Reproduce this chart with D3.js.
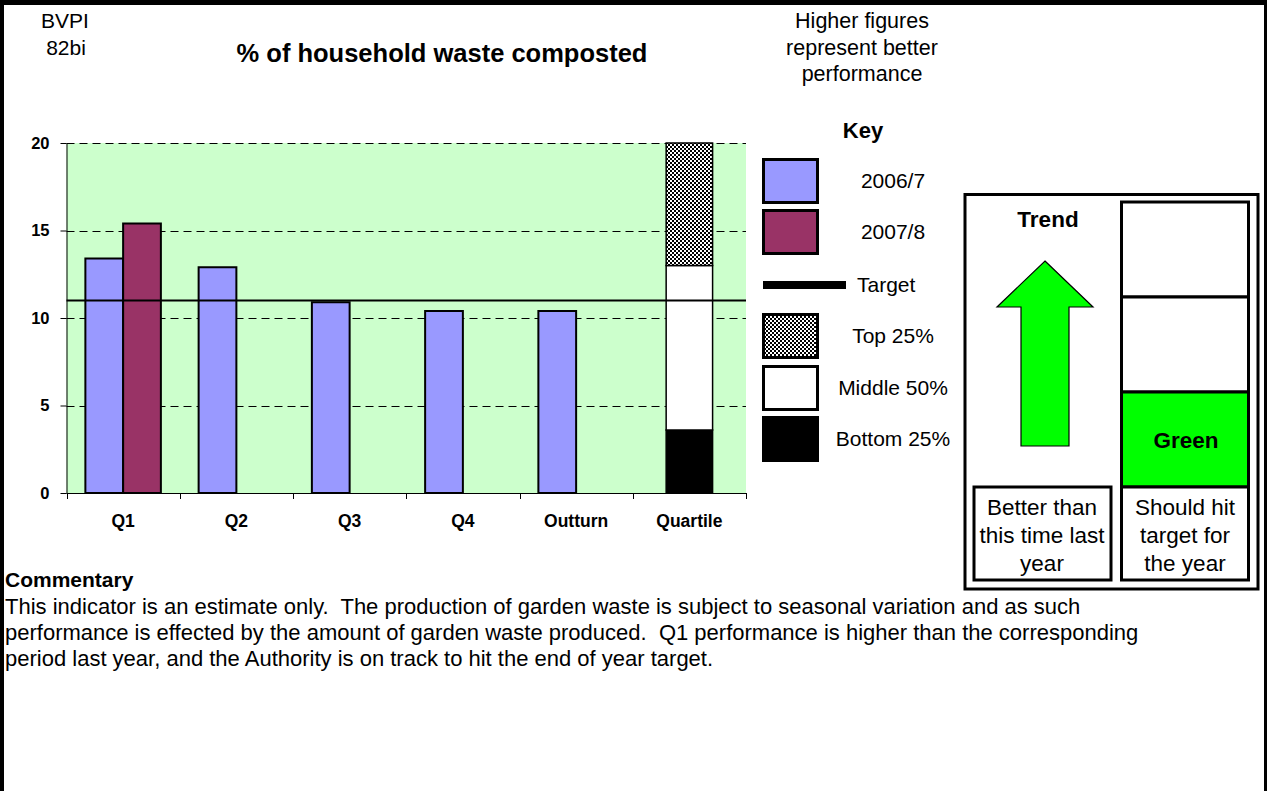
<!DOCTYPE html>
<html>
<head>
<meta charset="utf-8">
<title>% of household waste composted</title>
<script src="https://cdn.jsdelivr.net/npm/d3@7"></script>
<style>
  html, body { margin: 0; padding: 0; background: #fff; }
  svg { display: block; font-family: Arial, "Liberation Sans", sans-serif; }
</style>
</head>
<body>
<svg id="chart" width="1267" height="791"></svg>
<script>
// ---- data ----
const categories = ["Q1", "Q2", "Q3", "Q4", "Outturn", "Quartile"];
const seriesNames = ["2006/7", "2007/8"];
const values2006 = [13.4, 12.9, 10.9, 10.4, 10.4, null];
const values2007 = [15.4, null, null, null, null, null];
const targetValue = 11;
const quartileNames = ["Bottom 25%", "Middle 50%", "Top 25%"];
const quartileValues = [3.6, 9.4, 7.0];
const yTickValues = [0, 5, 10, 15, 20];
const yMax = 20;
const commentaryLines = [
  "This indicator is an estimate only.  The production of garden waste is subject to seasonal variation and as such",
  "performance is effected by the amount of garden waste produced.  Q1 performance is higher than the corresponding",
  "period last year, and the Authority is on track to hit the end of year target."
];

// ---- styles ----
const colors = { "2006/7": "#9999FF", "2007/8": "#993366" };
const plotBg = "#CCFFCC";
const brightGreen = "#00FF00";
const FONT = "Arial, 'Liberation Sans', sans-serif";

const svg = d3.select("#chart");

// page frame (top, left, right edges)
svg.append("rect").attr("x", 0).attr("y", 0).attr("width", 1267).attr("height", 5).attr("fill", "#000");
svg.append("rect").attr("x", 0).attr("y", 0).attr("width", 4).attr("height", 791).attr("fill", "#000");
svg.append("rect").attr("x", 1264).attr("y", 0).attr("width", 3).attr("height", 791).attr("fill", "#000");

// checker pattern for the top quartile
const defs = svg.append("defs");
const pat = defs.append("pattern").attr("id", "checker").attr("patternUnits", "userSpaceOnUse")
  .attr("width", 4).attr("height", 4);
pat.append("rect").attr("width", 4).attr("height", 4).attr("fill", "#fff");
pat.append("rect").attr("x", 0).attr("y", 0).attr("width", 2).attr("height", 2).attr("fill", "#000");
pat.append("rect").attr("x", 2).attr("y", 2).attr("width", 2).attr("height", 2).attr("fill", "#000");
const quartileFills = { "Bottom 25%": "#000", "Middle 50%": "#fff", "Top 25%": "url(#checker)" };

// ---- header texts ----
const header = svg.append("g").attr("fill", "#000");
header.append("text").attr("x", 65).attr("y", 28).attr("text-anchor", "middle")
  .style("font-size", "21px").text("BVPI");
header.append("text").attr("x", 66).attr("y", 55).attr("text-anchor", "middle")
  .style("font-size", "21px").text("82bi");
header.append("text").attr("x", 442).attr("y", 62).attr("text-anchor", "middle")
  .style("font-size", "25.5px").style("font-weight", "bold").text("% of household waste composted");
["Higher figures", "represent better", "performance"].forEach((t, i) => {
  header.append("text").attr("x", 862).attr("y", 28 + i * 26.5).attr("text-anchor", "middle")
    .style("font-size", "21.5px").text(t);
});

// ---- plot ----
const plot = { left: 66.5, right: 746, top: 143, bottom: 493 };
const x = d3.scaleBand().domain(categories).range([plot.left, plot.right]).paddingInner(0).paddingOuter(0);
const xSeries = d3.scaleBand().domain(seriesNames).range([0, x.bandwidth()]).paddingInner(0).paddingOuter(0.5);
const y = d3.scaleLinear().domain([0, yMax]).range([plot.bottom, plot.top]);

svg.append("rect").attr("x", plot.left).attr("y", y(yMax))
  .attr("width", plot.right - plot.left).attr("height", y(0) - y(yMax)).attr("fill", plotBg);

// dashed gridlines
svg.append("g").selectAll("line").data(yTickValues.filter(v => v > 0)).join("line")
  .attr("x1", plot.left).attr("x2", plot.right)
  .attr("y1", d => Math.round(y(d)) + 0.5).attr("y2", d => Math.round(y(d)) + 0.5)
  .attr("stroke", "#000").attr("stroke-width", 1).attr("stroke-dasharray", "8,5");

// grouped bars
const barData = [];
categories.forEach((c, i) => {
  [[seriesNames[0], values2006[i]], [seriesNames[1], values2007[i]]].forEach(([s, v]) => {
    if (v != null) barData.push({ cat: c, series: s, value: v });
  });
});
svg.append("g").selectAll("rect").data(barData).join("rect")
  .attr("x", d => x(d.cat) + xSeries(d.series))
  .attr("y", d => y(d.value))
  .attr("width", xSeries.bandwidth())
  .attr("height", d => y(0) - y(d.value))
  .attr("fill", d => colors[d.series])
  .attr("stroke", "#000").attr("stroke-width", 2);

// stacked quartile bar
const stackRow = {};
quartileNames.forEach((n, i) => stackRow[n] = quartileValues[i]);
const stacked = d3.stack().keys(quartileNames)([stackRow]);
const qWidth = x.bandwidth() * 0.41;
const qX = x("Quartile") + (x.bandwidth() - qWidth) / 2;
svg.append("g").selectAll("rect").data(stacked).join("rect")
  .attr("x", qX)
  .attr("y", d => y(d[0][1]))
  .attr("width", qWidth)
  .attr("height", d => y(d[0][0]) - y(d[0][1]))
  .attr("fill", d => quartileFills[d.key])
  .attr("stroke", "#000").attr("stroke-width", 1.5);

// target line
svg.append("line").attr("x1", plot.left).attr("x2", plot.right)
  .attr("y1", y(targetValue)).attr("y2", y(targetValue))
  .attr("stroke", "#000").attr("stroke-width", 2);

// y axis
const yAxis = d3.axisLeft(y).tickValues(yTickValues).tickSize(6).tickSizeOuter(0).tickPadding(11);
const gy = svg.append("g").attr("transform", `translate(${plot.left},0)`).call(yAxis);
gy.selectAll("text").style("font-size", "16.5px").style("font-weight", "bold")
  .style("font-family", FONT).attr("fill", "#000");
gy.selectAll("line, path").attr("stroke", "#000");

// x axis: labels centred in bands, ticks at band edges
const xAxis = d3.axisBottom(x).tickSize(0).tickPadding(22);
const gx = svg.append("g").attr("transform", `translate(0,${plot.bottom})`).call(xAxis);
gx.select("path").remove();
gx.selectAll("text").style("font-size", "17.5px").style("font-weight", "bold")
  .style("font-family", FONT).attr("fill", "#000");
svg.append("line").attr("x1", plot.left).attr("x2", plot.right)
  .attr("y1", plot.bottom + 0.5).attr("y2", plot.bottom + 0.5).attr("stroke", "#000");
const edges = categories.map(c => x(c)).concat([x.range()[1]]);
svg.append("g").selectAll("line").data(edges).join("line")
  .attr("x1", d => Math.round(d) + 0.5).attr("x2", d => Math.round(d) + 0.5)
  .attr("y1", plot.bottom).attr("y2", plot.bottom + 6).attr("stroke", "#000");

// ---- key ----
const key = svg.append("g");
key.append("text").attr("x", 863).attr("y", 138).attr("text-anchor", "middle")
  .style("font-size", "22px").style("font-weight", "bold").text("Key");
const keyItems = [
  { label: seriesNames[0], kind: "box", fill: colors[seriesNames[0]], top: 158 },
  { label: seriesNames[1], kind: "box", fill: colors[seriesNames[1]], top: 209 },
  { label: "Target", kind: "line", top: 263 },
  { label: quartileNames[2], kind: "box", fill: quartileFills[quartileNames[2]], top: 313 },
  { label: quartileNames[1], kind: "box", fill: quartileFills[quartileNames[1]], top: 365 },
  { label: quartileNames[0], kind: "box", fill: quartileFills[quartileNames[0]], top: 416 }
];
keyItems.forEach(it => {
  const cy = it.top + 23;
  if (it.kind === "box") {
    key.append("rect").attr("x", 763.5).attr("y", it.top + 1.5).attr("width", 54).attr("height", 43)
      .attr("fill", it.fill).attr("stroke", "#000").attr("stroke-width", 3);
    key.append("text").attr("x", 893).attr("y", cy).attr("dy", "0.35em").attr("text-anchor", "middle")
      .style("font-size", "21px").text(it.label);
  } else {
    key.append("rect").attr("x", 763).attr("y", 281).attr("width", 83).attr("height", 8).attr("fill", "#000");
    key.append("text").attr("x", 857).attr("y", 285).attr("dy", "0.35em")
      .style("font-size", "21px").text(it.label);
  }
});

// ---- trend / status panel ----
const panel = svg.append("g");
panel.append("rect").attr("x", 965).attr("y", 194.5).attr("width", 293).attr("height", 394.5)
  .attr("fill", "#fff").attr("stroke", "#000").attr("stroke-width", 3);
panel.append("text").attr("x", 1048).attr("y", 227).attr("text-anchor", "middle")
  .style("font-size", "22.5px").style("font-weight", "bold").text("Trend");
const arrow = d3.path();
arrow.moveTo(1045, 261); arrow.lineTo(1093, 307); arrow.lineTo(1069, 307); arrow.lineTo(1069, 446);
arrow.lineTo(1021, 446); arrow.lineTo(1021, 307); arrow.lineTo(997, 307); arrow.closePath();
panel.append("path").attr("d", arrow.toString()).attr("fill", brightGreen)
  .attr("stroke", "#000").attr("stroke-width", 1.2);

const statusTops = [202, 297, 392];
statusTops.forEach((t, i) => {
  panel.append("rect").attr("x", 1121.5).attr("y", t).attr("width", 127).attr("height", 95)
    .attr("fill", i === 2 ? brightGreen : "#fff").attr("stroke", "#000").attr("stroke-width", 3);
});
panel.append("text").attr("x", 1186).attr("y", 440).attr("dy", "0.35em").attr("text-anchor", "middle")
  .style("font-size", "22.5px").style("font-weight", "bold").text("Green");

panel.append("rect").attr("x", 974).attr("y", 487).attr("width", 137).attr("height", 93)
  .attr("fill", "#fff").attr("stroke", "#000").attr("stroke-width", 3);
panel.append("rect").attr("x", 1121.5).attr("y", 487).attr("width", 127).attr("height", 93)
  .attr("fill", "#fff").attr("stroke", "#000").attr("stroke-width", 3);
["Better than", "this time last", "year"].forEach((t, i) => {
  panel.append("text").attr("x", 1042).attr("y", 515 + i * 28).attr("text-anchor", "middle")
    .style("font-size", "22.5px").text(t);
});
["Should hit", "target for", "the year"].forEach((t, i) => {
  panel.append("text").attr("x", 1185).attr("y", 515 + i * 28).attr("text-anchor", "middle")
    .style("font-size", "22.5px").text(t);
});

// ---- commentary ----
const comm = svg.append("g");
comm.append("text").attr("x", 5).attr("y", 587).style("font-size", "21px").style("font-weight", "bold")
  .text("Commentary");
commentaryLines.forEach((t, i) => {
  comm.append("text").attr("x", 5).attr("y", 614 + i * 26).style("font-size", "22px")
    .attr("xml:space", "preserve").style("white-space", "pre").text(t);
});
</script>
</body>
</html>
